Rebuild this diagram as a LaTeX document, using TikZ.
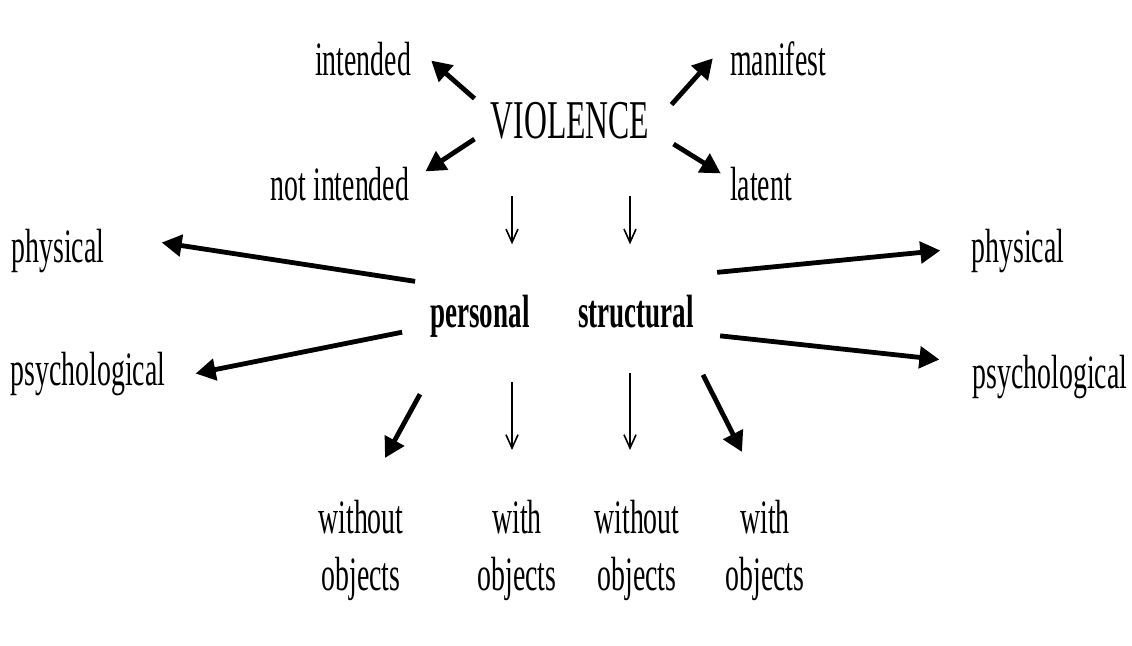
\documentclass[tikz,border=0pt]{standalone}
\usepackage{fontspec}
\setmainfont{Liberation Serif}[FakeStretch=0.58]
\usetikzlibrary{arrows.meta}

\begin{document}
\begin{tikzpicture}[x=0.75pt, y=-0.75pt, draw=black, text=black, align=center,
    bigarrow/.style={line width=3.6pt, -{Triangle[length=15pt,width=16pt]}},
    thinarrow/.style={line width=1.2pt, -{Straight Barb[length=10pt,width=9pt]}}]
    \tikzstyle{every node}=[inner sep=0pt, anchor=base, font=\fontsize{36}{43}\selectfont];
    \useasboundingbox (0,0) rectangle (1132,646);

    \node at (570,138) (violence) [font=\fontsize{41}{41}\selectfont] {VIOLENCE};
    \node at (363,75) (intended) {intended};
    \node at (340,200) (notint) {not intended};
    \node at (778,75) (manifest) {manifest};
    \node at (761,200) (latent) {latent};

    \node at (480,327) (personal) [font=\bfseries\fontsize{35}{41}\selectfont] {personal};
    \node at (636,327) (structural) [font=\bfseries\fontsize{35}{41}\selectfont] {structural};

    \node at (58,262) (physL) {physical};
    \node at (88,385) (psychL) {psychological};
    \node at (1018,262) (physR) {physical};
    \node at (1050,388) (psychR) {psychological};

    \node at (361,500) (withoutA) [anchor=north] {without\\objects};
    \node at (517,500) (withA) [anchor=north] {with\\objects};
    \node at (637,500) (withoutB) [anchor=north] {without\\objects};
    \node at (765,500) (withB) [anchor=north] {with\\objects};

    % violence
    \draw[bigarrow] ([shift={(-16,-3)}]violence.north west) -- ([shift={(20,2)}]intended.east);
    \draw[bigarrow] ([shift={(-16,0)}]violence.south west) -- ([shift={(16,5)}]notint.north east);
    \draw[bigarrow] ([shift={(22,3)}]violence.north east) -- ([shift={(-17,0)}]manifest.west);
    \draw[bigarrow] ([shift={(24,5)}]violence.south east) -- ([shift={(-9,7)}]latent.north west);
    \draw[thinarrow] ([shift={(-58,57)}]violence.south) -- ([shift={(32,-50)}]personal.north);
    \draw[thinarrow] ([shift={(60,57)}]violence.south) -- ([shift={(-6,-50)}]structural.north);

    % personal / structural
    \draw[bigarrow] ([shift={(-15,-13)}]personal.north west) -- ([shift={(57,-8)}]physL.east);
    \draw[bigarrow] ([shift={(-28,-5)}]personal.south west) -- ([shift={(30,0)}]psychL.east);
    \draw[bigarrow] ([shift={(23,-22)}]structural.north east) -- ([shift={(-31,0)}]physR.west);
    \draw[bigarrow] ([shift={(26,8)}]structural.south east) -- ([shift={(-33,-17)}]psychR.west);

    % objects
    \draw[bigarrow] ([shift={(-60,57)}]personal.south) -- ([shift={(24,-42)}]withoutA.north);
    \draw[thinarrow] ([shift={(32,45)}]personal.south) -- ([shift={(-5,-50)}]withA.north);
    \draw[thinarrow] ([shift={(-6,45)}]structural.south) -- ([shift={(-7,-50)}]withoutB.north);
    \draw[bigarrow] ([shift={(67,47)}]structural.south) -- ([shift={(-23,-48)}]withB.north);
\end{tikzpicture}
\end{document}
